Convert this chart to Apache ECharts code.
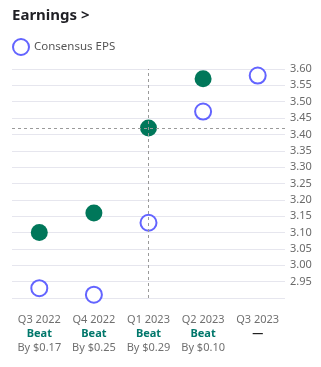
<!DOCTYPE html>
<html>
<head>
<meta charset="utf-8">
<script src="https://cdn.jsdelivr.net/npm/echarts@6/dist/echarts.min.js"></script>
<style>html,body{margin:0;padding:0;background:#fff}#c{width:321px;height:367px}</style>
</head>
<body>
<div id="c"></div>
<script>
const categories = ['Q3 2022', 'Q4 2022', 'Q1 2023', 'Q2 2023', 'Q3 2023'];
const actualEPS = [3.10, 3.16, 3.42, 3.57, null];
const consensusEPS = [2.93, 2.91, 3.13, 3.47, 3.58];
const results = ['Beat', 'Beat', 'Beat', 'Beat', '—'];
const surprises = ['By $0.17', 'By $0.25', 'By $0.29', 'By $0.10', ''];
const focusIndex = 2;

const FONT = 'Noto Sans, Open Sans, sans-serif';
const chart = echarts.init(document.getElementById('c'), null, {renderer: 'canvas'});
chart.setOption({
  animation: false,
  textStyle: {fontFamily: FONT},
  title: {
    text: 'Earnings >',
    left: 12, top: 8,
    padding: 0,
    textStyle: {fontSize: 15, fontWeight: 'bold', color: '#1f1f24', fontFamily: FONT}
  },
  legend: {
    data: ['Consensus EPS'],
    left: 12, top: 38,
    padding: 0,
    icon: 'circle',
    itemWidth: 16, itemHeight: 16,
    itemGap: 6,
    textStyle: {fontSize: 11.5, color: '#555', fontFamily: FONT}
  },
  grid: {left: 12, right: 36, top: 69, bottom: 69},
  xAxis: {
    type: 'category',
    data: categories,
    boundaryGap: true,
    axisLine: {show: false},
    axisTick: {show: false},
    splitLine: {show: false},
    axisLabel: {
      margin: 15,
      interval: 0,
      formatter: function (v, i) {
        const r = results[i];
        const s = surprises[i];
        return '{q|' + v + '}\n' + (r === 'Beat' ? '{b|' + r + '}' : '{d|' + r + '}') + (s ? '\n{s|' + s + '}' : '');
      },
      rich: {
        q: {fontSize: 11, color: '#707070', lineHeight: 14, fontFamily: FONT},
        b: {fontSize: 11, color: '#00776b', fontWeight: 'bold', lineHeight: 14, fontFamily: FONT},
        d: {fontSize: 11, color: '#222', fontWeight: 'bold', lineHeight: 14, fontFamily: FONT},
        s: {fontSize: 11, color: '#707070', lineHeight: 14, fontFamily: FONT}
      }
    }
  },
  yAxis: {
    type: 'value',
    position: 'right',
    min: 2.90, max: 3.60, interval: 0.05,
    axisLine: {show: false},
    axisTick: {show: false},
    splitLine: {lineStyle: {color: '#e6e6ee', width: 1}},
    axisLabel: {
      margin: 5,
      showMinLabel: false,
      fontSize: 11,
      color: '#6a6a6a',
      fontFamily: FONT,
      formatter: function (v) { return v.toFixed(2); }
    }
  },
  series: [
    {
      name: 'Consensus EPS',
      type: 'scatter',
      data: consensusEPS,
      symbol: 'circle',
      symbolSize: 16,
      z: 2,
      itemStyle: {color: '#ffffff', borderColor: '#6364ff', borderWidth: 2, opacity: 1}
    },
    {
      name: 'Actual EPS',
      type: 'scatter',
      data: actualEPS,
      symbol: 'circle',
      symbolSize: 17,
      z: 3,
      itemStyle: {color: '#00775a', opacity: 1},
      markLine: {
        silent: true,
        symbol: 'none',
        label: {show: false},
        z: 5,
        lineStyle: {color: '#9a9a9a', type: [3, 3], width: 1},
        data: [
          {xAxis: categories[focusIndex]},
          {yAxis: actualEPS[focusIndex]}
        ]
      }
    }
  ]
});
</script>
</body>
</html>
